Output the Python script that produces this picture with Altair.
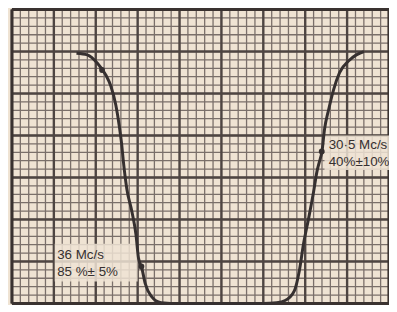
import altair as alt
import pandas as pd

# Response curve (grid units: x 0..45, y 0..35 minor squares)
curve_x = [7.7, 9.0, 10.2, 11.2, 11.8, 12.4, 12.8, 13.1, 13.3, 13.7, 14.3, 14.8, 15.1, 15.5, 15.9, 16.6, 17.8,
           20.0, 25.0, 30.0, 31.6,
           32.6, 33.7, 34.3, 34.8, 35.4, 36.0, 36.4, 36.7, 37.0, 37.3, 37.8, 38.4, 39.1, 40.2, 41.1, 42.0]
curve_y = [29.8, 29.6, 28.6, 27.2, 25.9, 23.6, 21.2, 18.9, 16.9, 13.7, 11.0, 8.2, 5.4, 4.2, 2.4, 0.9, 0.1,
           0.0, 0.0, 0.0, 0.1,
           0.35, 1.5, 3.9, 7.1, 10.1, 13.3, 15.7, 16.9, 18.1, 20.7, 23.1, 25.5, 27.5, 28.9, 29.6, 30.0]

dot_x = [10.75, 15.45, 36.97]
dot_y = [27.8, 4.4, 18.1]

label_lines = ["36 Mc/s", "85 %± 5%", "30·5 Mc/s", "40%±10%"]
label_x = [5.4, 5.4, 37.8, 37.8]
label_y = [5.3, 3.3, 18.4, 16.4]

box_x = [5.1, 37.3]
box_x2 = [15.0, 45.0]
box_y = [2.6, 15.9]
box_y2 = [7.1, 20.0]

minor_x = list(range(0, 46))
minor_y = list(range(0, 36))
major_x = list(range(0, 46, 5))
major_y = list(range(0, 36, 5))

BG = "#efe3d3"
GRID = "#7a6f6a"
MAJOR = "#4e4542"
INK = "#363030"

xs = alt.Scale(domain=[0, 45], nice=False, zero=False)
ys = alt.Scale(domain=[0, 35], nice=False, zero=False)
X = lambda f: alt.X(f, scale=xs, axis=None)
Y = lambda f: alt.Y(f, scale=ys, axis=None)

minor_v = alt.Chart(pd.DataFrame({"x": minor_x})).mark_rule(color=GRID, strokeWidth=1.3).encode(x=X("x:Q"))
minor_h = alt.Chart(pd.DataFrame({"y": minor_y})).mark_rule(color=GRID, strokeWidth=1.3).encode(y=Y("y:Q"))
major_v = alt.Chart(pd.DataFrame({"x": major_x})).mark_rule(color=MAJOR, strokeWidth=2.4).encode(x=X("x:Q"))
major_h = alt.Chart(pd.DataFrame({"y": major_y})).mark_rule(color=MAJOR, strokeWidth=2.4).encode(y=Y("y:Q"))

frame_df = pd.DataFrame({"x": [0, 45], "y": [0, 35]})
frame_v = alt.Chart(frame_df).mark_rule(color="#3a3230", strokeWidth=3).encode(x=X("x:Q"))
frame_h = alt.Chart(frame_df).mark_rule(color="#3a3230", strokeWidth=3).encode(y=Y("y:Q"))

boxes = alt.Chart(pd.DataFrame({"x": box_x, "x2": box_x2, "y": box_y, "y2": box_y2})).mark_rect(
    color=BG, opacity=0.85).encode(x=X("x:Q"), x2="x2:Q", y=Y("y:Q"), y2="y2:Q")

curve = alt.Chart(pd.DataFrame({"x": curve_x, "y": curve_y, "i": range(len(curve_x))})).mark_line(
    color=INK, strokeWidth=3, interpolate="monotone").encode(x=X("x:Q"), y=Y("y:Q"), order="i:Q")

dots = alt.Chart(pd.DataFrame({"x": dot_x, "y": dot_y})).mark_point(
    filled=True, color=INK, size=34, opacity=1).encode(x=X("x:Q"), y=Y("y:Q"))

labels = alt.Chart(pd.DataFrame({"t": label_lines, "x": label_x, "y": label_y})).mark_text(
    align="left", baseline="alphabetic", font="Liberation Sans", fontSize=13.5, color=INK).encode(
    x=X("x:Q"), y=Y("y:Q"), text="t:N")

chart = alt.layer(minor_v, minor_h, major_v, major_h, frame_v, frame_h, boxes, curve, dots, labels).properties(
    width=381, height=297, background=BG,
    padding={"left": 4, "top": 0, "right": 0, "bottom": 0},
    autosize=alt.AutoSizeParams(type="none"),
).configure_view(stroke=None)

chart.save("out.html", embed_options={"renderer": "svg", "actions": False})
